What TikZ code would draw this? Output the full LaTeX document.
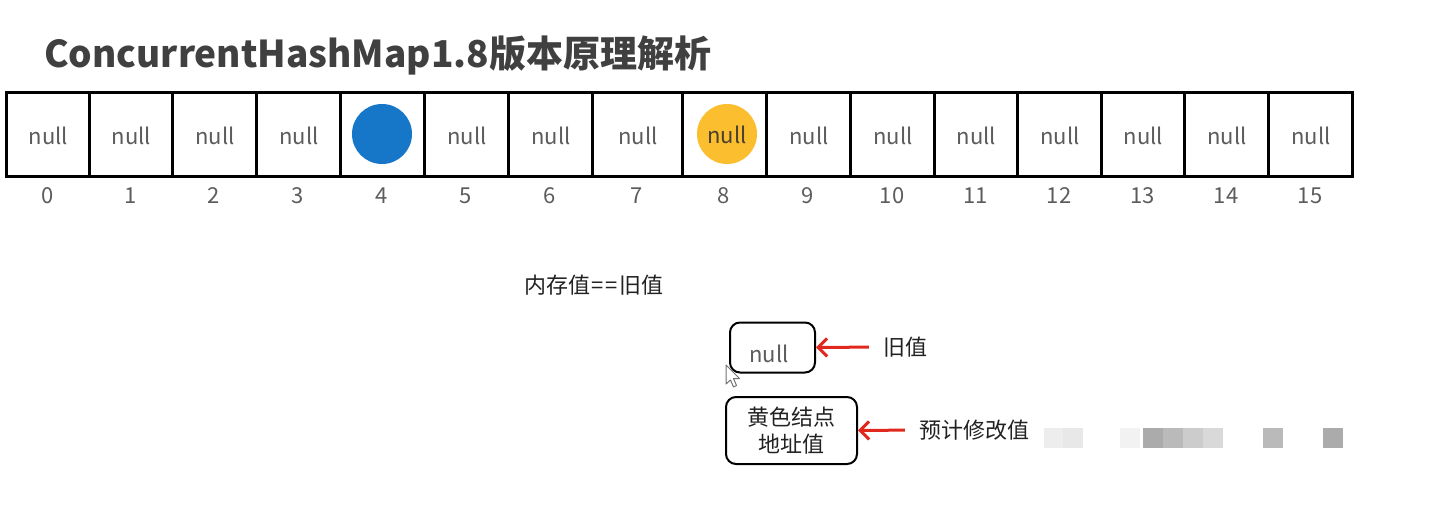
\documentclass[tikz,border=0pt]{standalone}
\usepackage{fontspec}
\setmainfont{Noto Sans CJK SC}
\usetikzlibrary{arrows.meta}
\definecolor{titlegray}{HTML}{404040}
\definecolor{nullgray}{HTML}{5C5C5C}
\definecolor{cellblue}{HTML}{1677C9}
\definecolor{cellyellow}{HTML}{FBBE2E}
\definecolor{yellowtext}{HTML}{4A4030}
\definecolor{arrowred}{HTML}{E0281E}
\definecolor{labelblack}{HTML}{222222}
\tikzset{
  cell/.style={draw=black, line width=3pt, inner sep=0pt, outer sep=0pt, minimum height=83},
  nulltxt/.style={inner sep=0pt, text=nullgray, font=\fontsize{22}{26}\selectfont},
  idx/.style={inner sep=0pt, text=nullgray, font=\fontsize{22}{26}\selectfont},
  lbl/.style={inner sep=0pt, text=labelblack, font=\fontsize{22}{27}\selectfont},
  rbox/.style={draw=black, line width=2pt, rounded corners=10pt, inner sep=0pt, outer sep=0pt},
  redarrow/.style={draw=arrowred, line width=3pt, -{Straight Barb[length=9pt,width=18pt,line width=3pt]}},
  wm/.style={inner sep=0pt, minimum width=20, minimum height=20},
}
\begin{document}
\begin{tikzpicture}[x=1pt,y=-1pt]
\useasboundingbox[fill=white] (0,0) rectangle (1456,516);

% title
\node[anchor=west, inner sep=0pt, text=titlegray, font=\fontsize{37}{42}\selectfont\bfseries] (title) at (44,55) {ConcurrentHashMap1.8版本原理解析};

% array cells
\foreach \i/\l/\r in {0/6/89, 1/89/172, 2/172/256, 3/256/340, 4/340/424, 5/424/508, 6/508/592, 7/592/682, 8/682/766, 9/766/850, 10/850/934, 11/934/1017, 12/1017/1101, 13/1101/1184, 14/1184/1268, 15/1268/1352} {
  \node[cell, minimum width={\r-\l}] (c\i) at ({(\l+\r)/2},134.5) {};
  \node[idx] (n\i) at ({(\l+\r)/2},196) {\i};
}

% nodes in buckets
\node[circle, fill=cellblue, inner sep=0pt, minimum size=60] (blue) at (382,134) {};
\node[circle, fill=cellyellow, inner sep=0pt, minimum size=60] (yellow) at (727,134) {};
\foreach \i in {0,1,2,3,5,6,7,9,10,11,12,13,14,15} {
  \node[nulltxt] (t\i) at ([xshift=1,yshift=-1]c\i.center) {null};
}
\node[nulltxt, text=yellowtext] (t8) at ([yshift=-1]yellow.center) {null};

% CAS explanation
\node[lbl] (eq) at (594,285) {内存值\kern1pt=\kern2pt=\kern1pt旧值};

\node[rbox, minimum width=85, minimum height=50] (old) at (772.5,347.5) {};
\node[nulltxt] (oldt) at (769,354) {null};
\node[lbl] (oldlbl) at (905,347) {旧值};
\draw[redarrow, shorten <=14pt, shorten >=1pt] (oldlbl.west) -- (old.east);

\node[rbox, minimum width=131, minimum height=67, align=center, text=labelblack, font=\fontsize{22}{27}\selectfont] (new) at (791.5,430.5) {黄色结点\\地址值};
\node[lbl] (newlbl) at (974,430) {预计修改值};
\draw[redarrow, shorten <=14pt, shorten >=1pt] (newlbl.west) -- (new.east);

% mouse cursor
\draw[fill=white, draw=black!55, line width=1pt, line join=round]
  (726,365) -- (726,384) -- (730.5,380) -- (733.5,387) -- (736.5,385.5) -- (733.5,378.5) -- (739.5,378.5) -- cycle;

% blurred watermark
\node[wm, fill=black!7] (w1) at (1054,438) {};
\node[wm, fill=black!9] (w2) at (1073,438) {};
\node[wm, fill=black!5] (w3) at (1130,438) {};
\node[wm, fill=black!33] (w4) at (1153,438) {};
\node[wm, fill=black!27] (w5) at (1173,438) {};
\node[wm, fill=black!20] (w6) at (1193,438) {};
\node[wm, fill=black!15] (w7) at (1213,438) {};
\node[wm, fill=black!27] (w8) at (1273,438) {};
\node[wm, fill=black!33] (w9) at (1333,438) {};
\end{tikzpicture}
\end{document}
